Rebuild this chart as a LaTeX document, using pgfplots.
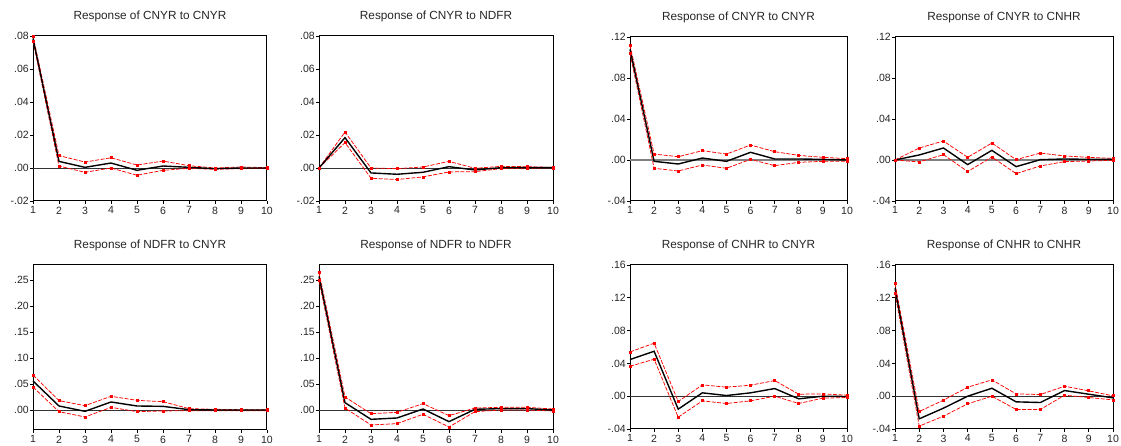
\documentclass[border=0pt]{standalone}
\usepackage{fontspec}
\setmainfont{Liberation Sans}
\usepackage{pgfplots}
\pgfplotsset{compat=1.18}
\usepackage{pgfplotstable}

\pgfplotstableread{
x u m l
1 0.0800 0.0785 0.0770
2 0.0075 0.0040 0.0012
3 0.0036 0.0004 -0.0026
4 0.0062 0.0030 0.0000
5 0.0018 -0.0014 -0.0044
6 0.0042 0.0012 -0.0014
7 0.0014 0.0004 -0.0002
8 0.0000 -0.0004 -0.0008
9 0.0006 0.0000 -0.0004
10 0.0002 0.0000 -0.0002
}\tA
\pgfplotstableread{
x u m l
1 0 0 0
2 0.0218 0.0184 0.0154
3 0.0000 -0.0030 -0.0062
4 -0.0004 -0.0038 -0.0070
5 0.0006 -0.0026 -0.0054
6 0.0040 0.0008 -0.0024
7 -0.0002 -0.0012 -0.0022
8 0.0010 0.0002 -0.0004
9 0.0008 0.0002 -0.0002
10 0.0004 0.0002 0.0000
}\tB
\pgfplotstableread{
x u m l
1 0.112 0.108 0.104
2 0.0058 -0.0013 -0.0081
3 0.0032 -0.0039 -0.0107
4 0.0091 0.0019 -0.0049
5 0.0058 -0.0013 -0.0081
6 0.0146 0.0075 0.0006
7 0.0081 0.0010 -0.0055
8 0.0045 0.0010 -0.0023
9 0.0026 0.0006 -0.0013
10 0.0013 0.0000 -0.0013
}\tC
\pgfplotstableread{
x u m l
1 0 0 0
2 0.0117 0.0049 -0.0019
3 0.0185 0.0117 0.0052
4 0.0026 -0.0045 -0.0113
5 0.0165 0.0094 0.0029
6 0.0003 -0.0065 -0.0133
7 0.0068 0.0003 -0.0058
8 0.0039 0.0010 -0.0016
9 0.0026 0.0006 -0.0010
10 0.0016 0.0006 -0.0003
}\tD
\pgfplotstableread{
x u m l
1 0.0673 0.0558 0.0442
2 0.0180 0.0077 -0.0032
3 0.0083 -0.0026 -0.0135
4 0.0263 0.0154 0.0051
5 0.0186 0.0077 -0.0032
6 0.0160 0.0070 -0.0019
7 0.0026 0.0006 -0.0013
8 0.0013 0.0000 -0.0013
9 0.0006 0.0000 -0.0013
10 0.0006 0.0000 -0.0013
}\tE
\pgfplotstableread{
x u m l
1 0.265 0.257 0.249
2 0.0250 0.0141 0.0038
3 -0.0071 -0.0180 -0.0288
4 -0.0045 -0.0154 -0.0263
5 0.0122 0.0019 -0.0083
6 -0.0109 -0.0224 -0.0327
7 0.0038 0.0013 -0.0032
8 0.0051 0.0026 0.0000
9 0.0051 0.0026 0.0000
10 0.0019 0.0000 -0.0019
}\tF
\pgfplotstableread{
x u m l
1 0.0540 0.0447 0.0365
2 0.0646 0.0548 0.0451
3 -0.0065 -0.0158 -0.0256
4 0.0138 0.0041 -0.0057
5 0.0110 0.0008 -0.0089
6 0.0134 0.0041 -0.0057
7 0.0191 0.0093 0.0000
8 0.0024 -0.0032 -0.0089
9 0.0028 0.0000 -0.0024
10 0.0012 -0.0004 -0.0016
}\tG
\pgfplotstableread{
x u m l
1 0.1376 0.1315 0.1255
2 -0.0187 -0.0276 -0.0365
3 -0.0049 -0.0146 -0.0244
4 0.0110 0.0000 -0.0093
5 0.0199 0.0097 0.0000
6 0.0028 -0.0069 -0.0162
7 0.0020 -0.0077 -0.0162
8 0.0122 0.0069 0.0012
9 0.0065 0.0024 -0.0016
10 0.0004 -0.0020 -0.0045
}\tH

\pgfplotsset{
 irf/.style={
  scale only axis, xmin=1, xmax=10,
  xtick={1,2,3,4,5,6,7,8,9,10},
  xticklabels={1,2,3,4,5,6,7,8,9,10},
  scaled y ticks=false,
  xtick pos=bottom, ytick pos=left,
  tick align=outside, major tick length=3pt,
  tick style={black, line width=0.6pt},
  axis line style={black, line width=1pt},
  tick label style={font=\fontsize{10.5}{12}\selectfont, text=black!85},
  yticklabel style={inner xsep=1pt},
  xticklabel style={inner ysep=2.5pt},
  title style={font=\fontsize{11.8}{14}\selectfont, text=black!85, at={(0.5,1)}, anchor=base, yshift=10pt},
  clip=false,
 },
 ya/.style={ymin=-0.02, ymax=0.08, ytick={-0.02,0,0.02,0.04,0.06,0.08}, yticklabels={-.02,.00,.02,.04,.06,.08}},
 yb/.style={ymin=-0.04, ymax=0.12, ytick={-0.04,0,0.04,0.08,0.12}, yticklabels={-.04,.00,.04,.08,.12}},
 yc/.style={ymin=-0.0385, ymax=0.279, ytick={0,0.05,0.10,0.15,0.20,0.25}, yticklabels={.00,.05,.10,.15,.20,.25}},
 yd/.style={ymin=-0.04, ymax=0.16, ytick={-0.04,0,0.04,0.08,0.12,0.16}, yticklabels={-.04,.00,.04,.08,.12,.16}},
 resp/.style={black, line width=1.4pt, mark=none},
 band/.style={red, line width=0.75pt, dash pattern=on 4pt off 1.5pt, mark=square*, mark size=1pt, mark options={solid, fill=red}},
}

\newcommand\irf[2][black!80, line width=0.6pt]{%
 \addplot[#1, forget plot] coordinates {(1,0) (10,0)};
 \addplot[band] table[x=x,y=u]{#2};
 \addplot[band] table[x=x,y=l]{#2};
 \addplot[resp] table[x=x,y=m]{#2};
}

\begin{document}
\begin{tikzpicture}
\begin{axis}[irf, ya, at={(33pt,245pt)}, anchor=south west, width=234pt, height=165pt, title={Response of CNYR to CNYR}]
\irf{\tA}
\end{axis}
\begin{axis}[irf, ya, at={(319pt,245pt)}, anchor=south west, width=234pt, height=165pt, title={Response of CNYR to NDFR}]
\irf{\tB}
\end{axis}
\begin{axis}[irf, yb, at={(630pt,245pt)}, anchor=south west, width=217pt, height=164pt, title={Response of CNYR to CNYR}]
\irf[black!50, line width=1.2pt]{\tC}
\end{axis}
\begin{axis}[irf, yb, at={(895pt,245pt)}, anchor=south west, width=218pt, height=164pt, title={Response of CNYR to CNHR}]
\irf[black!50, line width=1.2pt]{\tD}
\end{axis}
\begin{axis}[irf, yc, at={(33pt,16pt)}, anchor=south west, width=234pt, height=165pt, title={Response of NDFR to CNYR}]
\irf{\tE}
\end{axis}
\begin{axis}[irf, yc, at={(319pt,16pt)}, anchor=south west, width=234pt, height=165pt, title={Response of NDFR to NDFR}]
\irf{\tF}
\end{axis}
\begin{axis}[irf, yd, at={(630pt,17pt)}, anchor=south west, width=217pt, height=164pt, title={Response of CNHR to CNYR}]
\irf{\tG}
\end{axis}
\begin{axis}[irf, yd, at={(895pt,17pt)}, anchor=south west, width=218pt, height=164pt, title={Response of CNHR to CNHR}]
\irf{\tH}
\end{axis}
\pgfresetboundingbox
\path[use as bounding box] (0,0) rectangle (1121pt,446pt);
\end{tikzpicture}
\end{document}
